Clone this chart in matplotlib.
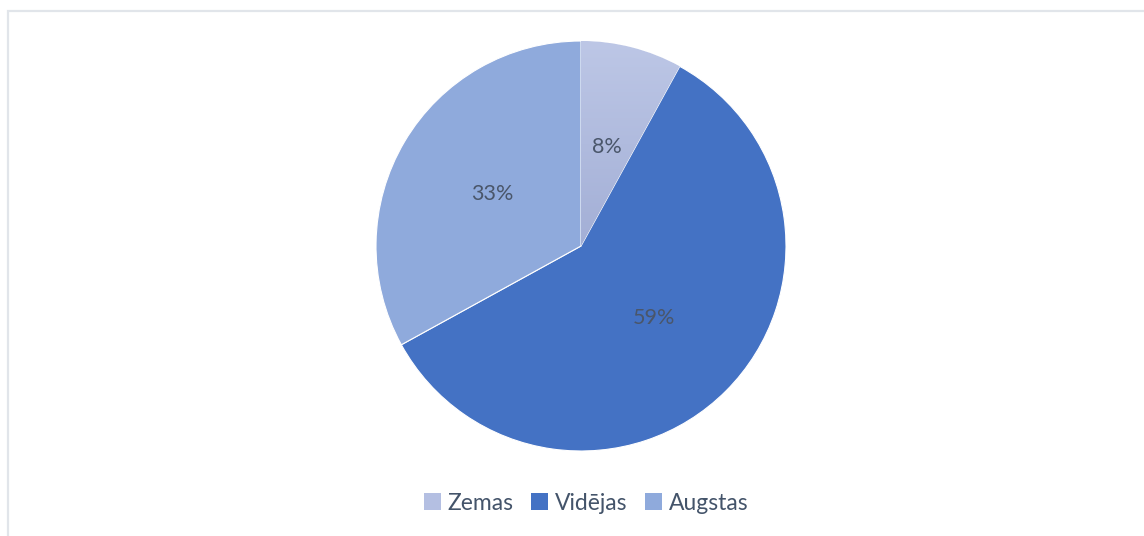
import matplotlib
matplotlib.use("Agg")
import matplotlib.pyplot as plt
import numpy as np
from matplotlib.patches import Rectangle, Patch
from matplotlib.colors import LinearSegmentedColormap

categories = ["Zemas", "Vidējas", "Augstas"]
values = [8, 59, 33]
colors = ["#B4BFE2", "#4472C4", "#8FAADC"]

W, H = 1144, 536
fig = plt.figure(figsize=(W / 100, H / 100), dpi=100)
fig.patch.set_facecolor("white")

# chart frame
fig.patches.append(Rectangle((7.5 / W, -0.1), 1.2, 1 - 10.5 / H + 0.1,
                             transform=fig.transFigure, fill=False,
                             edgecolor="#E1E5EA", linewidth=1.6))

cx, cy, r = 581, 246, 205
ax = fig.add_axes([(cx - r) / W, (H - cy - r) / H, 2 * r / W, 2 * r / H])
ax.set_xlim(-1, 1)
ax.set_ylim(-1, 1)
ax.set_aspect("equal")
ax.axis("off")

wedges, texts, autotexts = ax.pie(
    values, colors=colors, startangle=90, counterclock=False, radius=1,
    autopct=lambda p: f"{p:.0f}%", pctdistance=0.5,
    wedgeprops=dict(edgecolor="white", linewidth=0.8),
    textprops=dict(color="#4A566A", fontsize=15.5, family="Lato"))

# gradient for first wedge
w0 = wedges[0]
cmap = LinearSegmentedColormap.from_list("g", ["#A3AFD6", "#BDC7E6"])
grad = np.linspace(0, 1, 256).reshape(-1, 1)
im = ax.imshow(grad, extent=(-1, 1, 0, 1), origin="lower", cmap=cmap,
               aspect="auto", zorder=w0.get_zorder() + 0.1)
im.set_clip_path(w0)
for t in autotexts:
    t.set_zorder(5)
ax.set_xlim(-1, 1)
ax.set_ylim(-1, 1)

handles = [Patch(facecolor=c, edgecolor="none") for c in colors]
fig.legend(handles, categories, loc="center", ncol=3,
           bbox_to_anchor=(586 / W, 1 - 503 / H), frameon=False,
           handlelength=0.75, handleheight=0.75, handletextpad=0.3,
           columnspacing=0.75,
           prop=dict(family="Lato", size=16.5), labelcolor="#44546A")

fig.savefig("out.png", dpi=100, facecolor="white")
